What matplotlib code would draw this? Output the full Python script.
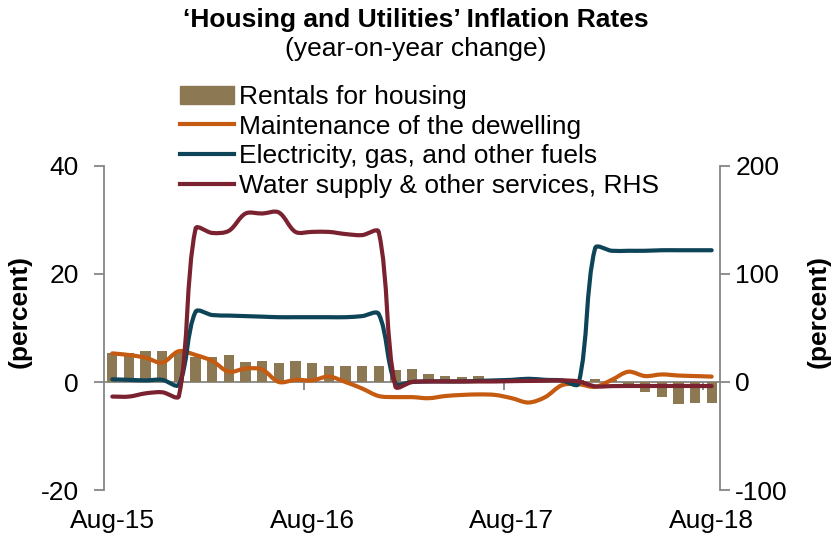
import matplotlib
matplotlib.use("Agg")
import matplotlib.pyplot as plt
from matplotlib.path import Path
from matplotlib.patches import PathPatch, Patch
from matplotlib.lines import Line2D
import numpy as np
import pandas as pd

# ---------------- data ----------------
months = pd.date_range("2015-08-01", "2018-08-01", freq="MS").strftime("%b-%y").tolist()
tick_labels = ["Aug-15", "Aug-16", "Aug-17", "Aug-18"]

rentals = [5.3, 5.3, 5.8, 5.8, 5.3, 4.6, 4.6, 5.0, 3.7, 3.8, 3.5, 3.9, 3.5,
           2.9, 2.9, 2.9, 2.9, 2.2, 2.5, 1.5, 1.2, 1.0, 1.1, 0.3, 0.2, 0.2,
           0.1, 0.1, 0.3, 0.6, 0.3, -1.1, -1.9, -2.8, -4.1, -3.8, -3.8]

maintenance = [5.3, 5.0, 4.5, 3.6, 5.7, 5.0, 3.9, 1.9, 2.5, 2.3, 0.0, 0.4, 0.3,
               1.0, 0.0, -1.2, -2.6, -2.8, -2.8, -3.0, -2.6, -2.4, -2.3, -2.4,
               -3.0, -3.8, -2.8, -0.6, -0.4, -0.9, 0.4, 1.9, 1.1, 1.4, 1.2, 1.1, 1.0]

electricity = [0.5, 0.4, 0.3, 0.4, -0.5, 13.0, 12.4, 12.3, 12.2, 12.1, 12.0, 12.0,
               12.0, 12.0, 12.0, 12.2, 12.6, -0.2, 0.0, 0.1, 0.1, 0.1, 0.2, 0.3,
               0.4, 0.6, 0.4, 0.3, -0.3, 24.8, 24.3, 24.3, 24.3, 24.4, 24.4, 24.4, 24.4]

water_rhs = [-13.5, -13.5, -10.5, -9.5, -13.0, 142, 138, 140, 156, 156, 157, 139,
             139, 139, 137, 136, 139, -4, 0, 0.5, 0.5, 0.5, 0.5, 0.5, 0.8, 1.0,
             1.2, 1.5, 0.5, -4, -3.8, -3.7, -3.7, -3.7, -3.7, -3.7, -3.8]

# ---------------- style ----------------
FONT = ["Liberation Sans", "DejaVu Sans"]
plt.rcParams["font.family"] = FONT
plt.rcParams["axes.unicode_minus"] = False
C_BAR = "#8C7853"
C_MAINT = "#C55A11"
C_ELEC = "#0E4458"
C_WATER = "#7B2230"
C_AX = "#868686"
FS = 19


def smooth_path(axis, x, y):
    """Excel-like smoothed line: cubic Bezier through the data points, with
    tangents weighted by the on-screen lengths of neighbouring segments."""
    pts = np.column_stack([x, y]).astype(float)
    disp = axis.transData.transform(pts)
    n = len(pts)
    d = np.hypot(*np.diff(disp, axis=0).T)  # screen lengths of segments
    verts = [pts[0]]
    codes = [Path.MOVETO]
    for i in range(n - 1):
        p1, p2 = pts[i], pts[i + 1]
        if i > 0:
            w1 = d[i] / (d[i - 1] + d[i])
            c1 = p1 + (p2 - pts[i - 1]) * w1 / 3.0
        else:
            c1 = p1 + (p2 - p1) / 3.0
        if i + 2 < n:
            w2 = d[i] / (d[i] + d[i + 1])
            c2 = p2 - (pts[i + 2] - p1) * w2 / 3.0
        else:
            c2 = p2 - (p2 - p1) / 3.0
        verts += [c1, c2, p2]
        codes += [Path.CURVE4] * 3
    return Path(verts, codes)


fig = plt.figure(figsize=(8.32, 5.35), dpi=100)
ax = fig.add_axes([104 / 832, 1 - 490 / 535, (720 - 104) / 832, (490 - 166) / 535])
x = np.arange(len(months))

ax.set_xlim(-0.5, len(months) - 0.5)
ax.set_ylim(-20, 40)
ax2 = ax.twinx()
ax2.set_ylim(-100, 200)

ax.bar(x, rentals, width=0.62, color=C_BAR, zorder=2)
ax.add_patch(PathPatch(smooth_path(ax, x, maintenance), fill=False, edgecolor=C_MAINT,
                       lw=3, capstyle="round", joinstyle="round", zorder=3))
ax.add_patch(PathPatch(smooth_path(ax, x, electricity), fill=False, edgecolor=C_ELEC,
                       lw=3, capstyle="round", joinstyle="round", zorder=4))
ax2.add_patch(PathPatch(smooth_path(ax2, x, water_rhs), fill=False, edgecolor=C_WATER,
                        lw=3, capstyle="round", joinstyle="round", zorder=5))

ax.set_yticks([-20, 0, 20, 40])
ax.tick_params(axis="y", length=7, width=1.3, color=C_AX, labelsize=FS, pad=11)
ax.set_xticks([0, 12, 24, 36])
ax.set_xticklabels(tick_labels)
ax.tick_params(axis="x", length=0, labelsize=FS, pad=14)
for s in ["top", "bottom", "right"]:
    ax.spines[s].set_visible(False)
ax.spines["left"].set_color(C_AX)
ax.spines["left"].set_linewidth(1.3)

# horizontal axis line at zero with tick marks between categories
sec = ax.secondary_xaxis(1 / 3)
sec.set_xticks([11.5, 23.5, 35.5])
sec.set_xticklabels([])
sec.tick_params(axis="x", length=6, width=1.3, color=C_AX, direction="out")
sec.spines["bottom"].set_color(C_AX)
sec.spines["bottom"].set_linewidth(1.3)

ax2.set_yticks([-100, 0, 100, 200])
ax2.tick_params(axis="y", length=7, width=1.3, color=C_AX, labelsize=FS, pad=4)
for s in ["top", "bottom", "left"]:
    ax2.spines[s].set_visible(False)
ax2.spines["right"].set_color(C_AX)
ax2.spines["right"].set_linewidth(1.3)

ax.set_ylabel("(percent)", fontsize=FS, fontweight="bold")
ax.yaxis.set_label_coords(-0.118, 0.55)
ax2.set_ylabel("(percent)", fontsize=FS, fontweight="bold", rotation=90)
ax2.yaxis.set_label_coords(1.14, 0.55)

fig.text(0.5, 1 - 20 / 535, "\u2018Housing and Utilities\u2019 Inflation Rates",
         ha="center", va="center", fontsize=FS, fontweight="bold")
fig.text(0.5, 1 - 49 / 535, "(year-on-year change)", ha="center", va="center", fontsize=FS)

handles = [Patch(facecolor=C_BAR, edgecolor=C_BAR),
           Line2D([0], [0], color=C_MAINT, lw=3),
           Line2D([0], [0], color=C_ELEC, lw=3),
           Line2D([0], [0], color=C_WATER, lw=3)]
labels = ["Rentals for housing", "Maintenance of the dewelling",
          "Electricity, gas, and other fuels", "Water supply & other services, RHS"]
fig.legend(handles, labels, loc="upper left", bbox_to_anchor=(180 / 832, 1 - 85 / 535),
           frameon=False, fontsize=FS, handlelength=2.05, handletextpad=0.2,
           labelspacing=0.215, borderpad=0, borderaxespad=0, handleheight=0.7)

fig.savefig("out.png", dpi=100)
